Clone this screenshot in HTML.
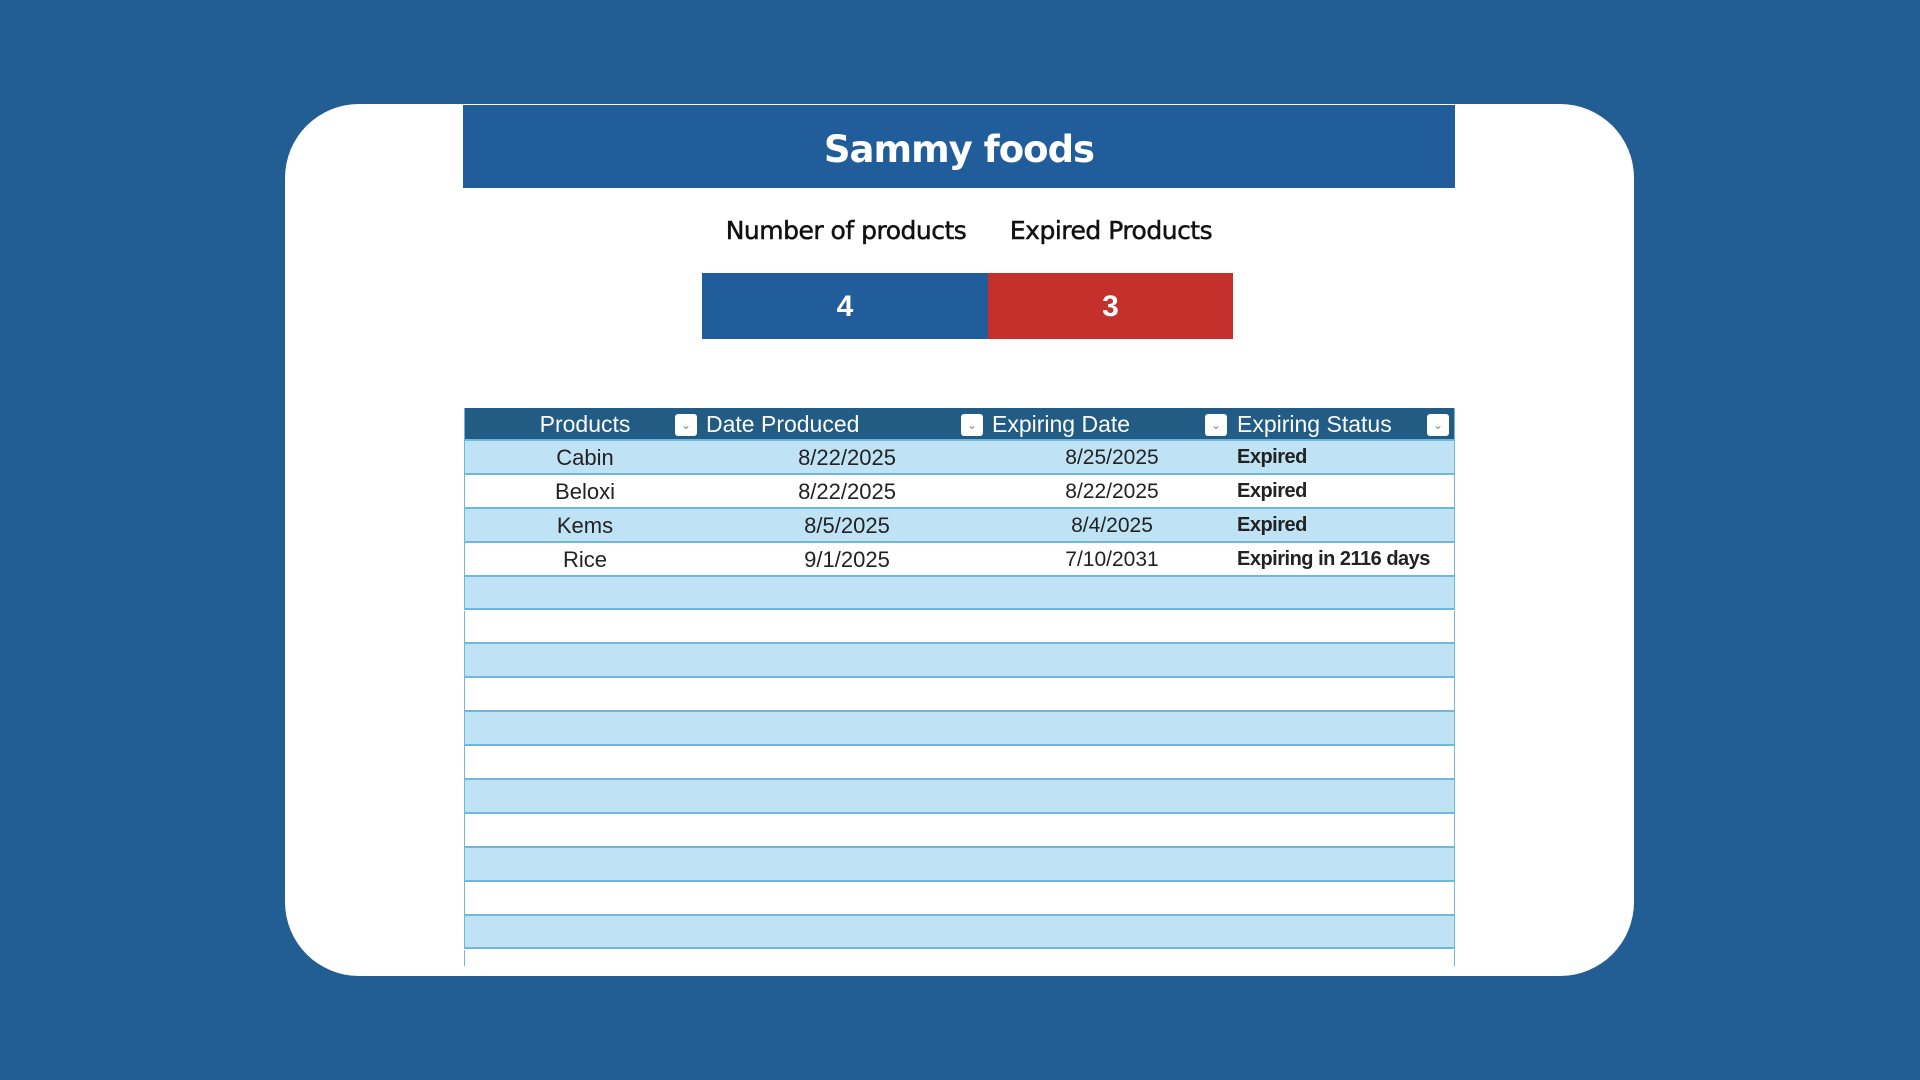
<!DOCTYPE html>
<html><head><meta charset="utf-8"><style>
body{margin:0;width:1920px;height:1080px;background:#225d93;position:relative;overflow:hidden;font-family:"Liberation Sans",sans-serif}
.card{position:absolute;left:285px;top:104px;width:1349px;height:872px;background:#fff;border-radius:74px;overflow:hidden}
.abs{position:absolute}
.band{left:463px;top:105px;width:992px;height:83px;background:#215d9a;color:#fff;font-family:"DejaVu Sans",sans-serif;font-weight:bold;font-size:37px;text-align:center;line-height:90px;letter-spacing:-1px}
.lbl{top:216px;font-family:"DejaVu Sans",sans-serif;font-size:25px;color:#111;text-align:center;width:300px;letter-spacing:-0.5px;-webkit-text-stroke:0.5px #111}
.box{top:273px;height:66px;color:#fff;font-weight:bold;font-size:30px;text-align:center;line-height:68px}
.row{position:absolute;left:464px;width:991px;border-bottom:2px solid #6fb7dc;border-left:1px solid #6fb7dc;border-right:1px solid #6fb7dc;box-sizing:border-box;font-size:22px;color:#222}
.row span{position:absolute;top:0}
.hdr{background:#225b83;color:#fff;font-size:23px}
.dd{position:absolute;top:6px;width:22px;height:22px;background:#fff;border-radius:3px;color:#888;font-size:12px;text-align:center;line-height:22px}
</style></head><body>
<div class="card"></div>
<div class="abs band">Sammy foods</div>
<div class="abs lbl" style="left:696px">Number of products</div>
<div class="abs lbl" style="left:961px">Expired Products</div>
<div class="abs box" style="left:702px;width:286px;background:#215d9a">4</div>
<div class="abs box" style="left:988px;width:245px;background:#c4302b">3</div>
<div id="tbl"></div>
<script>
const products=["Cabin","Beloxi","Kems","Rice"];
const produced=["8/22/2025","8/22/2025","8/5/2025","9/1/2025"];
const expiring=["8/25/2025","8/22/2025","8/4/2025","7/10/2031"];
const status=["Expired","Expired","Expired","Expiring in 2116 days"];
const tbl=document.getElementById('tbl');
const top0=408,hh=33,rh=33.9;
const h=document.createElement('div');
h.className='row hdr';


h.style.top=top0+'px';h.style.height=hh+'px';
h.innerHTML='<span style="left:0;width:240px;text-align:center;line-height:33px">Products</span><div class="dd" style="left:210px">&#8964;</div><span style="left:241px;line-height:33px">Date Produced</span><div class="dd" style="left:496px">&#8964;</div><span style="left:527px;line-height:33px">Expiring Date</span><div class="dd" style="left:740px">&#8964;</div><span style="left:772px;line-height:33px">Expiring Status</span><div class="dd" style="left:962px">&#8964;</div>';
tbl.appendChild(h);
for(let i=0;i<16;i++){
  const r=document.createElement('div');
  r.className='row';
  
  
  const t=top0+hh+i*rh;
  r.style.top=t+'px';
  r.style.height=(i==15?966-t:rh)+'px';
  r.style.background=i%2==0?'#bfe3f5':'#fff';
  if(i==15)r.style.borderBottom='none';
  if(i<products.length){
    const lh='line-height:'+(rh)+'px';
    r.innerHTML='<span style="left:0;width:240px;text-align:center;'+lh+'">'+products[i]+'</span>'+
    '<span style="left:282px;width:200px;text-align:center;'+lh+'">'+produced[i]+'</span>'+
    '<span style="left:547px;width:200px;text-align:center;font-size:21px;'+lh+'">'+expiring[i]+'</span>'+
    '<span style="left:772px;font-weight:bold;font-size:20px;letter-spacing:-0.5px;'+lh+'">'+status[i]+'</span>';
  }
  tbl.appendChild(r);
}
</script>
</body></html>
